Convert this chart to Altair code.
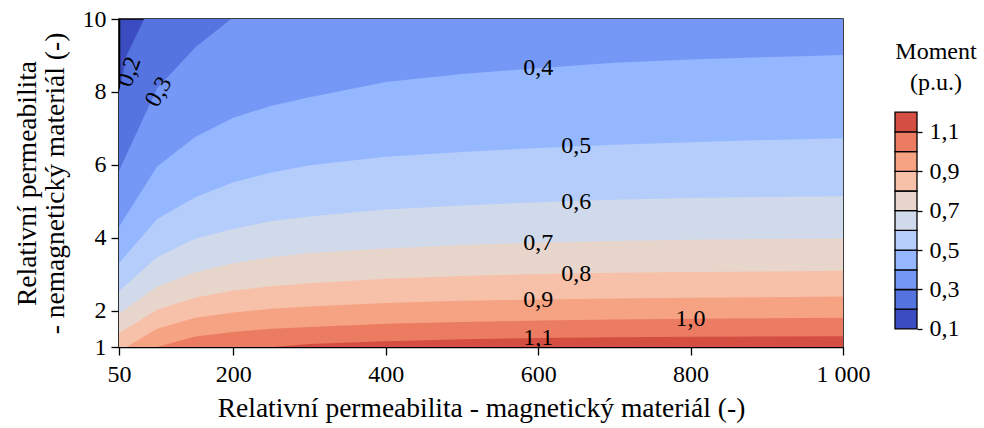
import altair as alt
import pandas as pd

FONT = "Liberation Serif"

# Filled-contour levels (Moment, p.u.) and band colours (coolwarm)
LEVELS = [0.1, 0.2, 0.3, 0.4, 0.5, 0.6, 0.7, 0.8, 0.9, 1.0, 1.1, 1.2]
BAND_COLORS = ["#3b4cc0", "#5674e0", "#7598f6", "#95b7ff", "#b4cdfa",
               "#d1daea", "#e8d6cc", "#f6c1a8", "#f6a384", "#eb7c61", "#d44e41"]

# Contour lines: x = magnetic material permeability,
# y = non-magnetic material permeability where Moment equals the level
C02_X = [50, 60, 83, 1000]
C02_Y = [8.0, 9.0, 10.0, 10.0]
C03_X = [50, 100, 150, 197, 1000]
C03_Y = [5.83, 8.1, 9.22, 10.0, 10.0]
XG = [50, 100, 150, 200, 250, 300, 400, 500, 600, 700, 800, 900, 1000]
C04_Y = [4.30, 5.95, 6.76, 7.29, 7.62, 7.85, 8.27, 8.49, 8.65, 8.80, 8.89, 8.95, 9.01]
C05_Y = [3.30, 4.515, 5.11, 5.52, 5.785, 5.99, 6.22, 6.35, 6.46, 6.55, 6.62, 6.68, 6.725]
C06_Y = [2.53, 3.46, 3.97, 4.24, 4.455, 4.58, 4.77, 4.88, 4.97, 5.04, 5.09, 5.115, 5.135]
C07_Y = [1.91, 2.66, 3.05, 3.30, 3.46, 3.58, 3.70, 3.80, 3.86, 3.91, 3.945, 3.965, 3.98]
C08_Y = [1.38, 2.02, 2.35, 2.55, 2.67, 2.75, 2.87, 2.95, 3.00, 3.035, 3.055, 3.075, 3.09]
C09_X = [60, 100, 150, 200, 250, 300, 400, 500, 600, 700, 800, 900, 1000]
C09_Y = [1.0, 1.50, 1.80, 1.95, 2.05, 2.11, 2.21, 2.27, 2.30, 2.33, 2.35, 2.365, 2.385]
C10_X = [100, 150, 200, 250, 300, 400, 500, 600, 700, 800, 900, 1000]
C10_Y = [1.0, 1.29, 1.41, 1.50, 1.55, 1.64, 1.685, 1.725, 1.755, 1.775, 1.79, 1.80]
C11_X = [254, 300, 400, 500, 600, 700, 800, 900, 1000]
C11_Y = [1.0, 1.08, 1.155, 1.21, 1.25, 1.27, 1.28, 1.29, 1.296]

CONTOURS = [(C02_X, C02_Y), (C03_X, C03_Y), (XG, C04_Y), (XG, C05_Y), (XG, C06_Y),
            (XG, C07_Y), (XG, C08_Y), (C09_X, C09_Y), (C10_X, C10_Y), (C11_X, C11_Y)]

# Inline contour labels
LABEL_TEXT = ["0,2", "0,3", "0,4", "0,5", "0,6", "0,7", "0,8", "0,9", "1,0", "1,1"]
LABEL_X = [63.4, 102, 600, 650, 650, 600, 650, 600, 800, 600]
LABEL_Y = [8.55, 8.0, 8.65, 6.51, 4.99, 3.85, 3.0, 2.29, 1.773, 1.24]
LABEL_ANGLE = [290, 300, 0, 0, 0, 0, 0, 0, 0, 0]

X_TICKS = [50, 200, 400, 600, 800, 1000]
Y_TICKS = [1, 2, 4, 6, 8, 10]
CB_TICKS = [0.1, 0.3, 0.5, 0.7, 0.9, 1.1]
CB_DOMAIN = [0.008, 1.673]

xsc = alt.Scale(domain=[50, 1000], nice=False, zero=False)
ysc = alt.Scale(domain=[1, 10], nice=False, zero=False)
xax = alt.Axis(values=X_TICKS, format=",d", title="Relativní permeabilita - magnetický materiál (-)",
               tickSize=8, tickWidth=1.3, labelPadding=7, titlePadding=8, domainWidth=1.5,
               labelFlush=False, titleFontSize=27.5)
yax = alt.Axis(values=Y_TICKS, format="d",
               title=["Relativní permeabilita", "- nemagnetický materiál (-)"],
               tickSize=8, tickWidth=1.3, labelPadding=5, titlePadding=13, domainWidth=1.5,
               titleLineHeight=28, labelFlush=False, titleFontSize=27.5)

layers = []
for i, (cx, cy) in enumerate(CONTOURS):
    d = pd.DataFrame({"x": cx, "y": cy})
    layers.append(
        alt.Chart(d).mark_area(color=BAND_COLORS[i + 1], clip=True, interpolate="linear").encode(
            x=alt.X("x:Q", scale=xsc, axis=xax),
            y=alt.Y("y:Q", scale=ysc, axis=yax, stack=None),
            y2=alt.datum(1),
        )
    )

lab = pd.DataFrame({"x": LABEL_X, "y": LABEL_Y, "t": LABEL_TEXT, "a": LABEL_ANGLE})
layers.append(
    alt.Chart(lab).mark_text(font=FONT, fontSize=24, color="black", clip=True).encode(
        x=alt.X("x:Q", scale=xsc, axis=xax),
        y=alt.Y("y:Q", scale=ysc, axis=yax),
        text="t:N",
        angle=alt.Angle("a:Q", scale=None),
    )
)

main = alt.layer(*layers).properties(
    width=724, height=328,
    view=alt.ViewBackground(fill=BAND_COLORS[0], stroke="black", strokeWidth=1.5),
)

cb = pd.DataFrame({"lo": LEVELS[:-1], "hi": LEVELS[1:], "c": BAND_COLORS})
cbar = alt.Chart(cb).mark_rect(stroke="black", strokeWidth=1.3).encode(
    y=alt.Y("lo:Q", scale=alt.Scale(domain=CB_DOMAIN, nice=False, zero=False),
            axis=alt.Axis(orient="right", values=CB_TICKS, format=".1f", title=None,
                          domain=False, tickSize=5, tickWidth=1.3, labelPadding=7,
                          labelFlush=False)),
    y2="hi:Q",
    color=alt.Color("c:N", scale=None, legend=None),
).properties(
    width=22, height=328,
    view=alt.ViewBackground(stroke=None),
    title=alt.TitleParams(["Moment", "(p.u.)"], font=FONT, fontSize=24, fontWeight="normal",
                          color="black", anchor="middle", dx=30, offset=-76, lineHeight=31),
)

chart = alt.hconcat(main, cbar, spacing=52, bounds="flush").properties(
    padding={"left": 12, "top": 6, "right": 0, "bottom": 0},
    background="white",
).configure(
    locale={"number": {"decimal": ",", "thousands": "\u00a0", "grouping": [3], "currency": ["", ""]}}
).configure_axis(
    labelFont=FONT, titleFont=FONT, labelFontSize=24, titleFontSize=27.5,
    titleFontWeight="normal", labelColor="black", titleColor="black",
    tickColor="black", domainColor="black", grid=False,
)

chart.save("out.html", embed_options={"renderer": "svg", "actions": False})
